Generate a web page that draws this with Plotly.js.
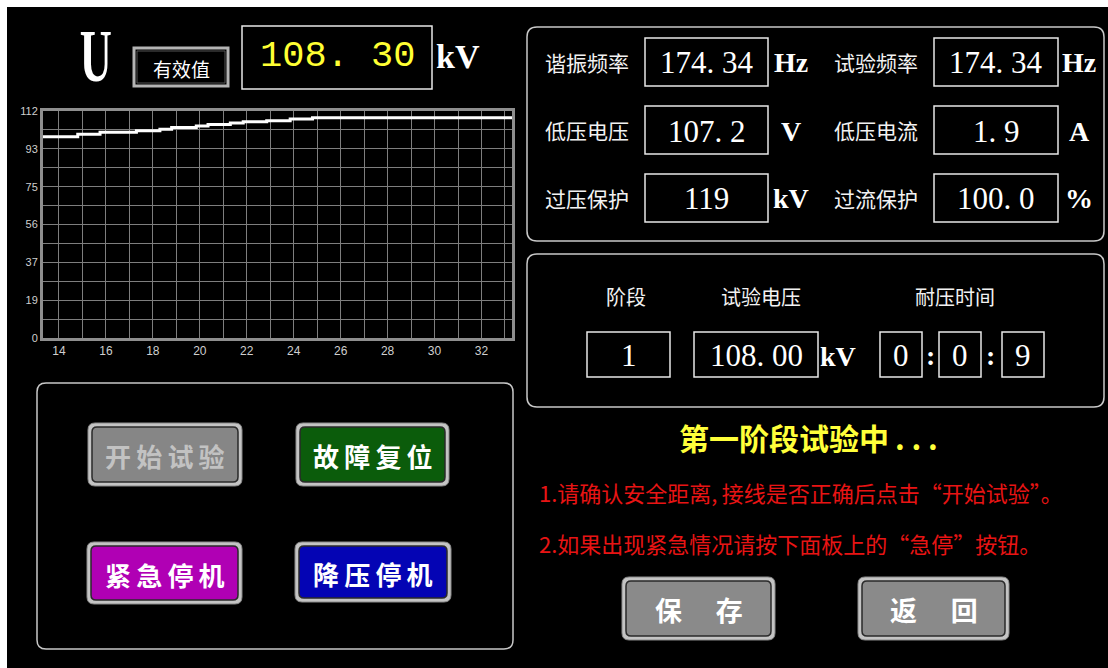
<!DOCTYPE html>
<html>
<head>
<meta charset="utf-8">
<script src="https://cdn.plot.ly/plotly-3.0.1.min.js"></script>
<style>html,body{margin:0;padding:0;background:#fff;}#chart{width:1108px;height:668px;}</style>
</head>
<body>
<div id="chart"></div>
<script>
// ---- chart data ----
const timeX = [13.32, 14.8, 15.75, 17.3, 18.3, 18.8, 19.85, 20.35, 21.3, 21.85, 22.85, 23.85, 24.8, 33.3];
const voltY = [99.3, 100.5, 101.5, 102.3, 103.0, 103.8, 104.6, 105.4, 106.1, 106.7, 107.2, 108.0, 108.7, 108.7];
const xTickVals = [14, 15, 16, 17, 18, 19, 20, 21, 22, 23, 24, 25, 26, 27, 28, 29, 30, 31, 32, 33];
const xTickLabels = ['14', '', '16', '', '18', '', '20', '', '22', '', '24', '', '26', '', '28', '', '30', '', '32', ''];
const yTickVals = [0, 9.33, 18.67, 28, 37.33, 46.67, 56, 65.33, 74.67, 84, 93.33, 102.67, 112];
const yTickLabels = ['0', '', '19', '', '37', '', '56', '', '75', '', '93', '', '112'];

// ---- panel readings ----
const mainValue = '108. 30';
const mainUnit = 'kV';
const paramLabels = ['谐振频率', '试验频率', '低压电压', '低压电流', '过压保护', '过流保护'];
const paramValues = ['174. 34', '174. 34', '107. 2', '1. 9', '119', '100. 0'];
const paramUnits = ['Hz', 'Hz', 'V', 'A', 'kV', '%'];
const stageHeaders = ['阶段', '试验电压', '耐压时间'];
const stageValues = ['1', '108. 00', '0', '0', '9'];
const statusText = '第一阶段试验中\u2009. . .';
const messages = ['1.请确认安全距离,\u2009接线是否正确后点击“开始试验”。', '2.如果出现紧急情况请按下面板上的“急停”按钮。'];
const controlButtons = ['开始试验', '故障复位', '紧急停机', '降压停机'];
const navButtons = ['保\u3000\u2005存', '返\u3000\u2005回'];

const W = 1108, H = 668;
const X = px => px / W;
const Y = py => 1 - py / H;
const CJK = 'Noto Sans CJK SC';
const SERIF = 'Liberation Serif';

function rr(x0, y0, x1, y1, r) {
  const p = (x, y) => X(x).toFixed(5) + ',' + Y(y).toFixed(5);
  return 'M ' + p(x0 + r, y0) + ' L ' + p(x1 - r, y0) + ' Q ' + p(x1, y0) + ' ' + p(x1, y0 + r) +
    ' L ' + p(x1, y1 - r) + ' Q ' + p(x1, y1) + ' ' + p(x1 - r, y1) +
    ' L ' + p(x0 + r, y1) + ' Q ' + p(x0, y1) + ' ' + p(x0, y1 - r) +
    ' L ' + p(x0, y0 + r) + ' Q ' + p(x0, y0) + ' ' + p(x0 + r, y0) + ' Z';
}
const shapes = [];
const ann = [];
function rect(x0, y0, x1, y1, line, lw, fill, layer) {
  shapes.push({type: 'rect', xref: 'paper', yref: 'paper', x0: X(x0), x1: X(x1), y0: Y(y0), y1: Y(y1),
    line: {color: line, width: lw}, fillcolor: fill || 'rgba(0,0,0,0)', layer: layer || 'above'});
}
function rpath(x0, y0, x1, y1, r, line, lw, fill) {
  shapes.push({type: 'path', xref: 'paper', yref: 'paper', path: rr(x0, y0, x1, y1, r),
    line: {color: line, width: lw}, fillcolor: fill || 'rgba(0,0,0,0)', layer: 'above'});
}
function txt(s, x, y, size, color, family, xanchor) {
  ann.push({text: s, x: X(x), y: Y(y), xref: 'paper', yref: 'paper', showarrow: false,
    xanchor: xanchor || 'center', yanchor: 'middle', font: {size: size, color: color, family: family}});
}

// background
rect(7, 7, W + 2, H + 2, '#000', 0, '#000000', 'below');

// header
txt('<b>U</b>', 95, 56, 74, '#ffffff', SERIF);
rect(134, 48, 228, 86, '#b4b4b4', 3, '#000000');
rect(137, 51, 225, 83, '#555555', 1);
txt('有效值', 181, 68, 19, '#ffffff', CJK);
rect(242, 26, 432, 89, '#e8e8e8', 1.5);
txt(mainValue, 337, 56, 37, '#ffff33', 'Liberation Mono');
txt('<b>' + mainUnit + '</b>', 458, 56, 34, '#ffffff', SERIF);

// panels
rpath(527, 27, 1104, 241, 10, '#c8c8c8', 1.5);
rpath(527, 254, 1104, 407, 10, '#c8c8c8', 1.5);
rpath(37, 383, 513, 649, 9, '#c8c8c8', 1.5);

// parameter grid
const rowsY = [62, 130, 198];
const colLabelX = [587, 876], colBox = [[645, 768], [934, 1058]], colUnitX = [791, 1079];
for (let i = 0; i < paramLabels.length; i++) {
  const r = Math.floor(i / 2), c = i % 2;
  const cy = rowsY[r];
  txt(paramLabels[i], colLabelX[c], cy, 21, '#f2f2f2', CJK);
  rect(colBox[c][0], cy - 24, colBox[c][1], cy + 24, '#e8e8e8', 1.5);
  txt(paramValues[i], (colBox[c][0] + colBox[c][1]) / 2, cy + 1, 31, '#ffffff', SERIF);
  txt('<b>' + paramUnits[i] + '</b>', colUnitX[c], cy + 1, 28, '#ffffff', SERIF);
}

// stage panel
const headerX = [626, 761, 955];
stageHeaders.forEach((h, i) => txt(h, headerX[i], 297, 20, '#f2f2f2', CJK));
const stageBoxes = [[587, 670], [694, 818], [880, 922], [939, 981], [1002, 1044]];
stageBoxes.forEach((b, i) => {
  rect(b[0], 332, b[1], 377, '#e8e8e8', 1.5);
  txt(stageValues[i], (b[0] + b[1]) / 2, 355, 31, '#ffffff', SERIF);
});
txt('<b>kV</b>', 838, 356, 28, '#ffffff', SERIF);
txt('<b>:</b>', 930, 355, 28, '#ffffff', SERIF);
txt('<b>:</b>', 990, 355, 28, '#ffffff', SERIF);

// status and messages
txt('<b>' + statusText + '</b>', 808, 437, 30, '#ffff3a', CJK);
txt(messages[0], 537, 492, 22, '#e81414', CJK, 'left');
txt(messages[1], 537, 543, 22, '#e81414', CJK, 'left');

// buttons
function button(x0, y0, x1, y1, fill, label, color, size) {
  rpath(x0, y0, x1, y1, 7, '#8a8a8a', 1, '#c4c4c4');
  rpath(x0 + 4, y0 + 4, x1 - 4, y1 - 4, 5, '#2a2a2a', 1.5, fill);
  txt('<b>' + label + '</b>', (x0 + x1) / 2, (y0 + y1) / 2 + 1, size, color, CJK);
}
const sp = s => s.split('').join('\u2009');
button(88, 423, 242, 486, '#868686', sp(controlButtons[0]), '#c2c2c2', 26);
button(296, 423, 449, 486, '#0b5c0b', sp(controlButtons[1]), '#ffffff', 26);
button(87, 542, 242, 604, '#b000b4', sp(controlButtons[2]), '#ffffff', 26);
button(295, 542, 451, 602, '#0404b4', sp(controlButtons[3]), '#ffffff', 26);
button(622, 577, 775, 640, '#8a8a8a', navButtons[0], '#ffffff', 27);
button(858, 577, 1009, 640, '#8a8a8a', navButtons[1], '#ffffff', 27);

const trace = {
  x: timeX, y: voltY, type: 'scatter', mode: 'lines',
  line: {color: '#ffffff', width: 3, shape: 'hv'}, hoverinfo: 'skip'
};

const layout = {
  width: W, height: H, margin: {l: 0, r: 0, t: 0, b: 0},
  paper_bgcolor: '#ffffff', plot_bgcolor: 'rgba(0,0,0,0)', showlegend: false,
  xaxis: {
    domain: [X(43), X(512)], range: [13.32, 33.3], tickmode: 'array', tickvals: xTickVals, ticktext: xTickLabels,
    showgrid: true, gridcolor: '#7e7e7e', gridwidth: 1, zeroline: false,
    showline: true, mirror: true, linecolor: '#8e8e8e', linewidth: 3, ticks: '',
    tickfont: {family: 'Liberation Sans', size: 12, color: '#cfcfcf'}, fixedrange: true
  },
  yaxis: {
    domain: [Y(338), Y(111)], range: [0, 112], tickmode: 'array', tickvals: yTickVals, ticktext: yTickLabels,
    showgrid: true, gridcolor: '#7e7e7e', gridwidth: 1, zeroline: false,
    showline: true, mirror: true, linecolor: '#8e8e8e', linewidth: 3, ticks: '',
    tickfont: {family: 'Liberation Sans', size: 11, color: '#cfcfcf'}, fixedrange: true
  },
  shapes: shapes, annotations: ann
};
Plotly.newPlot('chart', [trace], layout, {displayModeBar: false, staticPlot: true}).then(gd => {
  // the reference "U" is a tall, narrow glyph: squeeze it horizontally
  const t = gd.querySelector('g.annotation text');
  if (t) {
    t.style.transformBox = 'fill-box';
    t.style.transformOrigin = 'center';
    t.style.transform = 'scaleX(0.6)';
  }
});
</script>
</body>
</html>
